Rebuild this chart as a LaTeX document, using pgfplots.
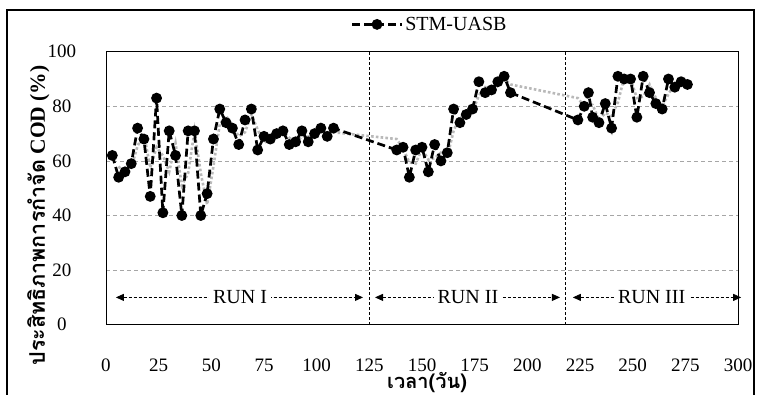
\documentclass[border=0pt]{standalone}
\usepackage{pgfplots}
\pgfplotsset{compat=1.18}
\usepackage{fontspec}
\setmainfont{Liberation Serif}
\newfontfamily\thaifont[Script=Thai]{Loma}
\usetikzlibrary{arrows.meta}
\begin{document}
\begin{tikzpicture}
\begin{axis}[
  scale only axis, width=632pt, height=273pt,
  xmin=0, xmax=300, ymin=0, ymax=100,
  xtick={0,25,...,300}, ytick={0,20,...,100},
  major tick length=0pt,
  /pgf/number format/assume math mode=true,
  tick label style={font=\fontsize{19}{21}\selectfont},
  yticklabel style={anchor=center, xshift=-44pt},
  xticklabel style={anchor=center, yshift=-41pt},
  ymajorgrids, grid style={dash pattern=on 4pt off 3pt, gray!70, line width=0.7pt},
  axis line style={black, line width=0.9pt},
  ylabel={\thaifont\bfseries ประสิทธิภาพการกำจัด\normalfont\bfseries\ COD (\%)},
  ylabel style={at={(axis description cs:-0.107,0.40)}, anchor=center, rotate=0, font=\fontsize{21.5}{24}\selectfont},
  xlabel={\thaifont\bfseries เวลา(วัน)},
  xlabel style={at={(axis description cs:0.508,-0.212)}, anchor=center, font=\fontsize{20}{22}\selectfont},
  legend style={draw=none, fill=none, at={(axis description cs:0.512,1.10)}, anchor=center, font=\fontsize{20}{22}\selectfont},
  legend image code/.code={\draw[#1, mark repeat=2, mark phase=2] plot coordinates {(0pt,0pt) (25pt,0pt) (50pt,0pt)};},
  clip=false,
]
\draw[black, line width=0.8pt, dash pattern=on 3pt off 2pt] (axis cs:125,0) -- (axis cs:125,100);
\draw[black, line width=0.8pt, dash pattern=on 3pt off 2pt] (axis cs:218,0) -- (axis cs:218,100);

\addplot[gray!55, line width=2.6pt, dash pattern=on 2.6pt off 2.2pt, forget plot] coordinates {
(6,58) (9,55) (12,57.5) (15,65.5) (18,70) (21,57.5) (24,65) (27,62) (30,56) (33,66.5)
(36,51) (39,55.5) (42,71) (45,55.5) (48,44) (51,58) (54,73.5) (57,76.5) (60,73) (63,69)
(66,70.5) (69,77) (72,71.5) (75,66.5) (78,68.5) (81,69) (84,70.5) (87,68.5) (90,66.5) (93,69)
(96,69) (99,68.5) (102,71) (105,70.5) (108,70.5) (138,68) (141,64.5) (144,59.5) (147,59) (150,64.5)
(153,60.5) (156,61) (159,63) (162,61.5) (165,71) (168,76.5) (171,75.5) (174,78) (177,84) (180,87)
(183,85.5) (186,87.5) (189,90) (192,88) (224,83) (227,80) (229,81) (231,80.5) (234,75) (237,77.5)
(240,76.5) (243,81.5) (246,90.5) (249,90) (252,83) (255,83.5) (258,88) (261,83) (264,80) (267,84.5)
(270,88.5) (273,88) (276,88.5)
};

\addplot[black, line width=2.7pt, dash pattern=on 8pt off 4pt, mark=*, mark size=4pt, mark options={solid, fill=black}] coordinates {
(3,62) (6,54) (9,56) (12,59) (15,72) (18,68) (21,47) (24,83) (27,41) (30,71)
(33,62) (36,40) (39,71) (42,71) (45,40) (48,48) (51,68) (54,79) (57,74) (60,72)
(63,66) (66,75) (69,79) (72,64) (75,69) (78,68) (81,70) (84,71) (87,66) (90,67)
(93,71) (96,67) (99,70) (102,72) (105,69) (108,72)
(138,64) (141,65) (144,54) (147,64) (150,65) (153,56) (156,66) (159,60) (162,63) (165,79)
(168,74) (171,77) (174,79) (177,89) (180,85) (183,86) (186,89) (189,91) (192,85)
(224,75) (227,80) (229,85) (231,76) (234,74) (237,81) (240,72) (243,91) (246,90) (249,90)
(252,76) (255,91) (258,85) (261,81) (264,79) (267,90) (270,87) (273,89) (276,88)
};
\addlegendentry{STM-UASB}

\draw[black, line width=0.8pt, dash pattern=on 3pt off 2pt, {Triangle[length=8pt,width=7pt]}-{Triangle[length=8pt,width=7pt]}] (axis cs:4.7,10) -- (axis cs:122,10);
\node[fill=white, inner sep=4pt, font=\fontsize{20}{22}\selectfont] at (axis cs:63.6,10) {RUN I};
\draw[black, line width=0.8pt, dash pattern=on 3pt off 2pt, {Triangle[length=8pt,width=7pt]}-{Triangle[length=8pt,width=7pt]}] (axis cs:127.7,10) -- (axis cs:215.5,10);
\node[fill=white, inner sep=4pt, font=\fontsize{20}{22}\selectfont] at (axis cs:171.8,10) {RUN II};
\draw[black, line width=0.8pt, dash pattern=on 3pt off 2pt, {Triangle[length=8pt,width=7pt]}-{Triangle[length=8pt,width=7pt]}] (axis cs:221.6,10) -- (axis cs:301.5,10);
\node[fill=white, inner sep=4pt, font=\fontsize{20}{22}\selectfont] at (axis cs:259,10) {RUN III};
\end{axis}
\pgfresetboundingbox
\path[use as bounding box] (-106pt,-69.3pt) rectangle (651pt,324.7pt);
\draw[black, line width=1.2pt] (-99pt,-80pt) rectangle (648pt,314.7pt);
\end{tikzpicture}
\end{document}
